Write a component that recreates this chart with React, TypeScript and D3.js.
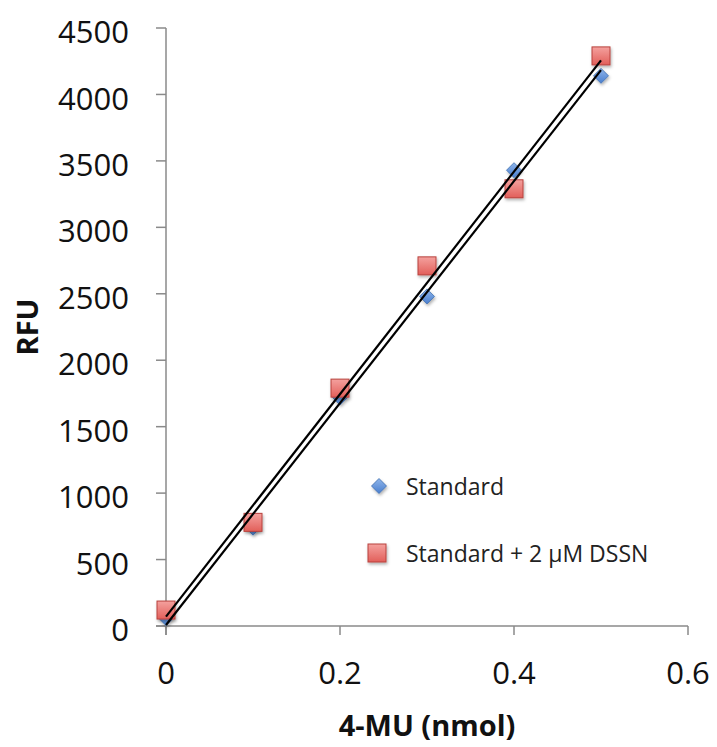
import React from "react";
import * as d3 from "d3";

const xValues = [0, 0.1, 0.2, 0.3, 0.4, 0.5];
const standard = [60, 740, 1720, 2480, 3430, 4140];
const standardDSSN = [120, 780, 1790, 2710, 3290, 4290];
const xTicks = [0, 0.2, 0.4, 0.6];
const yTicks = [0, 500, 1000, 1500, 2000, 2500, 3000, 3500, 4000, 4500];
const seriesNames = ["Standard", "Standard + 2 \u00b5M DSSN"];

const W = 717, H = 747;
const left = 166, right = 688, top = 28, bottom = 626;

function fit(xs: number[], ys: number[]) {
  const mx = d3.mean(xs)!, my = d3.mean(ys)!;
  let sxy = 0, sxx = 0;
  xs.forEach((x, i) => { sxy += (x - mx) * (ys[i] - my); sxx += (x - mx) ** 2; });
  const b = sxy / sxx;
  return { b, a: my - b * mx };
}

export default function App() {
  const x = d3.scaleLinear().domain([0, 0.6]).range([left, right]);
  const y = d3.scaleLinear().domain([0, 4500]).range([bottom, top]);
  const axisColor = "#8a8a8a";
  const font = "'Open Sans', 'Noto Sans', sans-serif";
  const fits = [fit(xValues, standard), fit(xValues, standardDSSN)];
  const x0 = d3.min(xValues)!, x1 = d3.max(xValues)!;
  const line = d3.line<[number, number]>().x(d => x(d[0])).y(d => y(d[1]));

  const diamond = (cx: number, cy: number, key: any) => (
    <path key={key} d={`M${cx},${cy - 7.5}L${cx + 7.5},${cy}L${cx},${cy + 7.5}L${cx - 7.5},${cy}Z`}
      fill="url(#blueGrad)" stroke="#3f6fb0" strokeWidth={0.8} filter="url(#shadow)" />
  );
  const square = (cx: number, cy: number, key: any) => (
    <rect key={key} x={cx - 9} y={cy - 9} width={18} height={18}
      fill="url(#redGrad)" stroke="#b8403c" strokeWidth={1} filter="url(#shadow)" />
  );

  return (
    <svg width={W} height={H} style={{ position: "absolute", left: 0, top: 0, background: "#fff" }}>
      <defs>
        <linearGradient id="blueGrad" x1="0" y1="0" x2="0" y2="1">
          <stop offset="0" stopColor="#8fb5ea" />
          <stop offset="1" stopColor="#4a7fcf" />
        </linearGradient>
        <linearGradient id="redGrad" x1="0" y1="0" x2="0" y2="1">
          <stop offset="0" stopColor="#f4a19e" />
          <stop offset="1" stopColor="#e25f5a" />
        </linearGradient>
        <filter id="shadow" x="-50%" y="-50%" width="200%" height="200%">
          <feDropShadow dx="1" dy="2" stdDeviation="1.5" floodColor="#000" floodOpacity="0.3" />
        </filter>
      </defs>
      <rect width={W} height={H} fill="#fff" />
      {/* axes */}
      <line x1={left} x2={left} y1={top} y2={bottom + 9} stroke={axisColor} strokeWidth={1.5} />
      <line x1={left - 10} x2={right} y1={bottom} y2={bottom} stroke={axisColor} strokeWidth={1.5} />
      {yTicks.map(t => (
        <g key={"y" + t}>
          <line x1={left - 10} x2={left} y1={y(t)} y2={y(t)} stroke={axisColor} strokeWidth={1.5} />
          <text x={129} y={y(t) + 4} dy="0.36em" textAnchor="end" fontFamily={font} fontSize={31} fill="#111">{t}</text>
        </g>
      ))}
      {xTicks.map(t => (
        <g key={"x" + t}>
          <line x1={x(t)} x2={x(t)} y1={bottom} y2={bottom + 9} stroke={axisColor} strokeWidth={1.5} />
          <text x={x(t)} y={bottom + 47} dy="0.36em" textAnchor="middle" fontFamily={font} fontSize={31} fill="#111">{t}</text>
        </g>
      ))}
      {/* markers */}
      {xValues.map((v, i) => diamond(x(v), y(standard[i]), "d" + i))}
      {xValues.map((v, i) => square(x(v), y(standardDSSN[i]), "s" + i))}
      {/* trend lines */}
      {fits.map((f, i) => (
        <path key={"f" + i} d={line([[x0, f.a + f.b * x0], [x1, f.a + f.b * x1]])!} stroke="#000" strokeWidth={2.2} fill="none" />
      ))}
      {/* legend */}
      {diamond(379, 486, "ld")}
      <text x={406} y={487} dy="0.36em" fontFamily={font} fontSize={23} fill="#222">{seriesNames[0]}</text>
      {square(377, 553, "ls")}
      <text x={406} y={554} dy="0.36em" fontFamily={font} fontSize={23} fill="#222">{seriesNames[1]}</text>
      {/* titles */}
      <text x={427} y={736} textAnchor="middle" fontFamily={font} fontWeight="bold" fontSize={29} fill="#111">4-MU (nmol)</text>
      <text transform={`translate(28,${(top + bottom) / 2}) rotate(-90)`} textAnchor="middle" dy="0.36em" fontFamily={font} fontWeight="bold" fontSize={29} fill="#111">RFU</text>
    </svg>
  );
}
